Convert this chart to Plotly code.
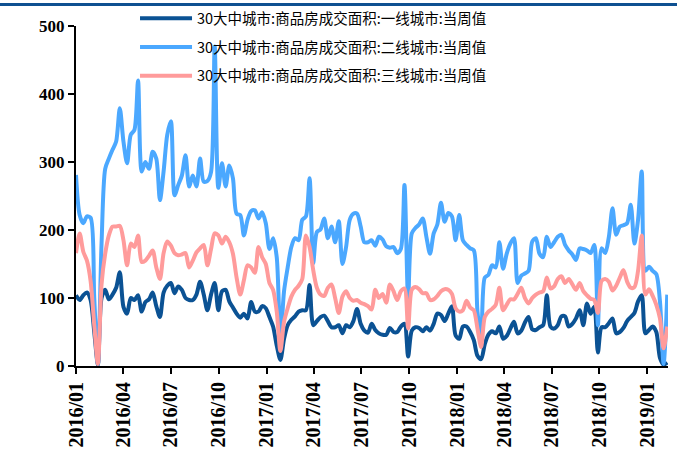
import pandas as pd
import plotly.graph_objects as go

# Weekly transaction area of commodity housing in 30 major cities (10k m2)
weeks = pd.date_range("2016-01-01", periods=163, freq="7D")

tier1 = [
    104, 97, 104, 108, 97, 50, 2, 100, 112, 98,
    105, 115, 138, 87, 77, 100, 97, 104, 80, 94,
    98, 108, 88, 72, 108, 118, 122, 107, 117, 112,
    100, 97, 97, 105, 124, 105, 82, 105, 122, 82,
    110, 112, 95, 86, 77, 71, 77, 70, 94, 80,
    80, 88, 85, 72, 58, 30, 9, 40, 60, 68,
    73, 80, 82, 82, 119, 60, 66, 72, 74, 66,
    57, 57, 60, 48, 60, 57, 66, 84, 62, 52,
    49, 62, 53, 48, 46, 46, 56, 50, 50, 58,
    62, 14, 52, 57, 56, 51, 57, 52, 62, 77,
    75, 66, 77, 88, 45, 40, 58, 58, 50, 38,
    15, 10, 32, 46, 51, 48, 58, 40, 44, 55,
    65, 48, 52, 64, 72, 54, 53, 57, 60, 104,
    58, 55, 60, 73, 73, 58, 62, 70, 82, 60,
    92, 77, 87, 20, 57, 57, 63, 70, 48, 50,
    56, 66, 72, 78, 95, 104, 48, 53, 58, 50,
    12, 2, 5,
]

tier2 = [
    281, 222, 210, 220, 218, 100, 3, 180, 290, 305,
    318, 330, 379, 330, 298, 340, 347, 420, 286, 300,
    290, 315, 305, 244, 286, 340, 360, 251, 266, 280,
    310, 264, 280, 264, 305, 271, 272, 285, 470, 262,
    298, 264, 295, 276, 224, 222, 192, 215, 228, 229,
    217, 226, 210, 172, 188, 160, 40, 110, 145, 175,
    188, 185, 215, 220, 276, 151, 197, 201, 217, 188,
    205, 182, 213, 150, 175, 215, 224, 224, 205, 182,
    182, 185, 177, 190, 186, 176, 174, 175, 166, 172,
    266, 100, 195, 203, 208, 217, 190, 165, 195, 208,
    240, 212, 225, 220, 185, 222, 185, 178, 173, 170,
    80, 40, 130, 134, 148, 145, 182, 143, 165, 180,
    188, 122, 133, 136, 140, 183, 188, 165, 160, 190,
    175, 182, 190, 193, 178, 170, 164, 156, 173, 172,
    170, 166, 178, 60, 173, 166, 190, 232, 193, 205,
    207, 210, 237, 180, 215, 286, 140, 146, 140, 135,
    95, 3, 105,
]

tier3 = [
    166, 195, 168, 155, 125, 60, 3, 120, 165, 192,
    205, 205, 206, 185, 148, 180, 175, 192, 153, 155,
    162, 170, 145, 128, 166, 183, 177, 166, 163, 164,
    166, 145, 155, 167, 173, 178, 148, 172, 195, 192,
    180, 190, 182, 165, 130, 105, 126, 148, 145, 137,
    175, 160, 150, 122, 112, 80, 22, 65, 85, 102,
    112, 118, 128, 192, 175, 141, 115, 105, 103, 115,
    120, 100, 78, 102, 110, 100, 96, 97, 93, 91,
    88, 83, 112, 100, 106, 93, 120, 110, 97, 110,
    114, 55, 112, 116, 113, 107, 107, 97, 98, 103,
    110, 113, 112, 106, 85, 80, 82, 96, 86, 82,
    55, 28, 72, 80, 84, 90, 115, 82, 90, 98,
    98, 106, 115, 100, 92, 100, 105, 108, 110, 130,
    114, 117, 128, 132, 122, 128, 120, 112, 122, 110,
    104, 99, 97, 78, 125, 128, 124, 111, 118, 130,
    141, 124, 115, 116, 140, 192, 105, 113, 103, 90,
    70, 26, 58,
]

series = [
    ("30大中城市:商品房成交面积:一线城市:当周值", tier1, "#0B5294"),
    ("30大中城市:商品房成交面积:二线城市:当周值", tier2, "#4BA8FF"),
    ("30大中城市:商品房成交面积:三线城市:当周值", tier3, "#FF9B9B"),
]

fig = go.Figure()
for k, (name, vals, color) in enumerate(series):
    fig.add_trace(go.Scatter(
        x=weeks, y=vals, name=name, mode="lines",
        line=dict(color=color, width=4, shape="spline", smoothing=0.8),
        legendgroup=f"g{k}",
    ))

serif = "Times New Roman, Liberation Serif, serif"
tick_font_y = dict(family=serif, size=17, color="black", weight="bold")
tick_font_x = dict(family=serif, size=20, color="black", weight="bold")

fig.update_layout(
    template="none",
    width=677, height=451,
    margin=dict(l=76, r=9, t=26, b=85, autoexpand=False),
    paper_bgcolor="white", plot_bgcolor="white",
    showlegend=True,
    legend=dict(
        x=0.0997, y=1.07, xanchor="left", yanchor="top",
        bgcolor="rgba(0,0,0,0)", borderwidth=0,
        font=dict(family="Noto Sans CJK SC", size=14.5, color="black"),
        itemwidth=52,
        tracegroupgap=7,
    ),
    xaxis=dict(
        type="date",
        range=["2016-01-01", "2019-02-09 10:00"],
        dtick="M3", tick0="2016-01-01", tickformat="%Y/%m",
        tickangle=-90, tickfont=tick_font_x, automargin=False,
        showgrid=False, zeroline=False,
        showline=True, linecolor="black", linewidth=2,
        ticks="outside", ticklen=6, tickwidth=2, tickcolor="black",
    ),
    yaxis=dict(
        range=[0, 500], dtick=100, automargin=False,
        tickfont=tick_font_y,
        showgrid=False, zeroline=False,
        showline=True, linecolor="black", linewidth=2,
        ticks="outside", ticklen=6, tickwidth=2, tickcolor="black",
    ),
    shapes=[dict(
        type="rect", xref="paper", yref="paper",
        x0=-76 / 592, x1=1 + 9 / 592,
        y0=(366 - 6) / 340, y1=(366 - 3) / 340,
        fillcolor="#0E5091", line=dict(width=0), layer="above",
    )],
)

fig.write_html("out.html")
